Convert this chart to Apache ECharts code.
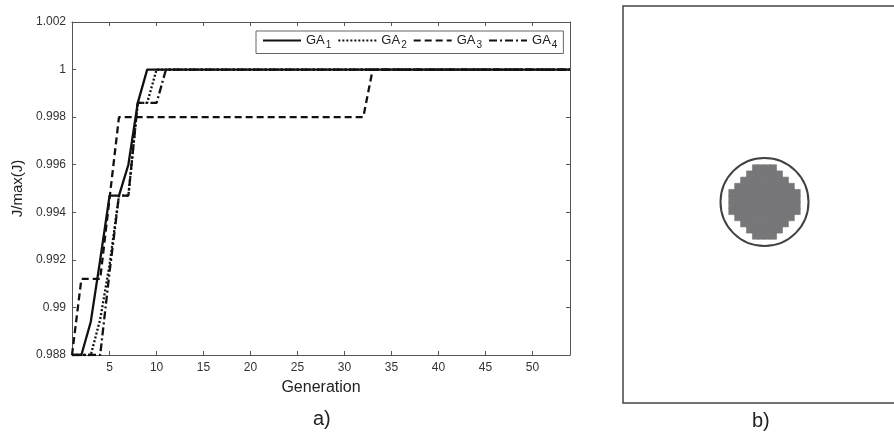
<!DOCTYPE html>
<html>
<head>
<meta charset="utf-8">
<script src="https://cdn.jsdelivr.net/npm/echarts@6/dist/echarts.min.js"></script>
<style>
  html, body { margin: 0; padding: 0; background: #fff; }
  #chart { width: 894px; height: 432px; }
</style>
</head>
<body>
<div id="chart"></div>
<script>
// panel a) convergence curves, break points only (lines are straight between them)
const ga1Gen = [1, 2, 3, 4, 5, 6, 7, 8, 9, 54]
const ga1Val = [0.988, 0.988, 0.9894, 0.992, 0.9947, 0.9947, 0.996, 0.9986, 1, 1]
const ga2Gen = [1, 3, 4, 5, 6, 7, 8, 9, 10, 54]
const ga2Val = [0.988, 0.988, 0.9895, 0.9918, 0.9947, 0.9947, 0.9986, 0.9986, 1, 1]
const ga3Gen = [1, 2, 4, 5, 6, 32, 33, 54]
const ga3Val = [0.988, 0.9912, 0.9912, 0.9946, 0.998, 0.998, 1, 1]
const ga4Gen = [1, 4, 5, 6, 7, 8, 10, 11, 54]
const ga4Val = [0.988, 0.988, 0.9915, 0.9947, 0.9947, 0.9986, 0.9986, 1, 1]
const seriesNames = ['GA1', 'GA2', 'GA3', 'GA4']
const xTicks = [5, 10, 15, 20, 25, 30, 35, 40, 45, 50]

// panel b) discretised disk, one string per row of cells ('#' = filled)
const diskRows = [
  '....####....',
  '...######...',
  '..########..',
  '.##########.',
  '############',
  '############',
  '############',
  '############',
  '.##########.',
  '..########..',
  '...######...',
  '....####....'
]
const circleCenter = [6, 6]

const chart = echarts.init(document.getElementById('chart'))

const pairs = (xs, ys) => xs.map((x, i) => [x, ys[i]])
const lineTypes = ['solid', [2, 2], [7, 4], [8, 3, 2, 3]]
const curves = [pairs(ga1Gen, ga1Val), pairs(ga2Gen, ga2Val), pairs(ga3Gen, ga3Val), pairs(ga4Gen, ga4Val)]

const cells = []
diskRows.forEach((row, r) => {
  row.split('').forEach((c, col) => {
    if (c === '#') cells.push([col, diskRows.length - 1 - r, 1])
  })
})
const idx = diskRows[0].split('').map((_, i) => i)

const font = 'Liberation Sans, Arial, sans-serif'
const axisCol = '#555'

const option = {
  animation: false,
  textStyle: { fontFamily: font },
  grid: [
    { left: 72, top: 22, width: 498, height: 333 },
    { left: 729, top: 165, width: 71, height: 74 }
  ],
  legend: {
    left: 256, top: 31,
    data: seriesNames,
    itemWidth: 38, itemHeight: 14, itemGap: 6,
    padding: [3, 6],
    borderColor: '#666', borderWidth: 1,
    itemStyle: { opacity: 0 },
    textStyle: {
      color: '#222',
      rich: {
        m: { fontSize: 13, lineHeight: 20, verticalAlign: 'middle', color: '#222' },
        s: { fontSize: 10, lineHeight: 20, verticalAlign: 'bottom', color: '#222', padding: [0, 0, 0, 1] }
      }
    },
    formatter: name => '{m|GA}{s|' + name.slice(2) + '}'
  },
  xAxis: [
    {
      gridIndex: 0, type: 'value', min: 1, max: 54,
      name: 'Generation', nameLocation: 'middle', nameGap: 25,
      nameTextStyle: { fontSize: 16, color: '#222' },
      axisLine: { lineStyle: { color: axisCol } },
      axisTick: { inside: true, length: 4, customValues: xTicks, lineStyle: { color: axisCol } },
      axisLabel: { customValues: xTicks, fontSize: 12, color: '#333', margin: 7 },
      splitLine: { show: false }
    },
    {
      gridIndex: 0, type: 'value', min: 1, max: 54, position: 'top',
      axisLine: { lineStyle: { color: axisCol } },
      axisTick: { inside: true, length: 4, customValues: xTicks, lineStyle: { color: axisCol } },
      axisLabel: { show: false },
      splitLine: { show: false }
    },
    { gridIndex: 1, type: 'category', data: idx, show: false },
    { gridIndex: 1, type: 'value', min: 0, max: 12, show: false, position: 'top' }
  ],
  yAxis: [
    {
      gridIndex: 0, type: 'value', min: 0.988, max: 1.002, interval: 0.002,
      name: 'J/max(J)', nameLocation: 'middle', nameGap: 46,
      nameTextStyle: { fontSize: 15, color: '#222' },
      axisLine: { show: true, lineStyle: { color: axisCol } },
      axisTick: { show: true, inside: true, length: 4, lineStyle: { color: axisCol } },
      axisLabel: { fontSize: 12, color: '#333', margin: 6, formatter: v => String(+v.toFixed(3)) },
      splitLine: { show: false }
    },
    {
      gridIndex: 0, type: 'value', min: 0.988, max: 1.002, interval: 0.002, position: 'right',
      axisLine: { show: true, lineStyle: { color: axisCol } },
      axisTick: { show: true, inside: true, length: 4, lineStyle: { color: axisCol } },
      axisLabel: { show: false },
      splitLine: { show: false }
    },
    { gridIndex: 1, type: 'category', data: idx, show: false },
    { gridIndex: 1, type: 'value', min: 0, max: 12, show: false, position: 'right' }
  ],
  series: [
    ...curves.map((data, i) => ({
      name: seriesNames[i], type: 'line', xAxisIndex: 0, yAxisIndex: 0,
      data, symbol: 'none', color: '#111',
      lineStyle: { color: '#111', width: 2.3, type: lineTypes[i] },
      z: 10 - i
    })),
    {
      type: 'heatmap', xAxisIndex: 2, yAxisIndex: 2, data: cells,
      itemStyle: { color: '#77777a', borderColor: '#77777a', borderWidth: 0.6 },
      emphasis: { disabled: true }
    },
    {
      type: 'scatter', xAxisIndex: 3, yAxisIndex: 3, data: [circleCenter],
      symbol: 'circle', symbolSize: 88,
      itemStyle: { color: 'rgba(0,0,0,0)', borderColor: '#111', borderWidth: 2 },
      silent: true
    }
  ],
  graphic: [
    { type: 'rect', shape: { x: 623, y: 6, width: 275, height: 397 },
      style: { fill: 'none', stroke: '#444', lineWidth: 1.5 } },
    { type: 'text', left: 313, top: 409,
      style: { text: 'a)', font: '20px ' + font, fill: '#222' } },
    { type: 'text', left: 752, top: 411,
      style: { text: 'b)', font: '20px ' + font, fill: '#222' } }
  ]
}
chart.setOption(option)
</script>
</body>
</html>
